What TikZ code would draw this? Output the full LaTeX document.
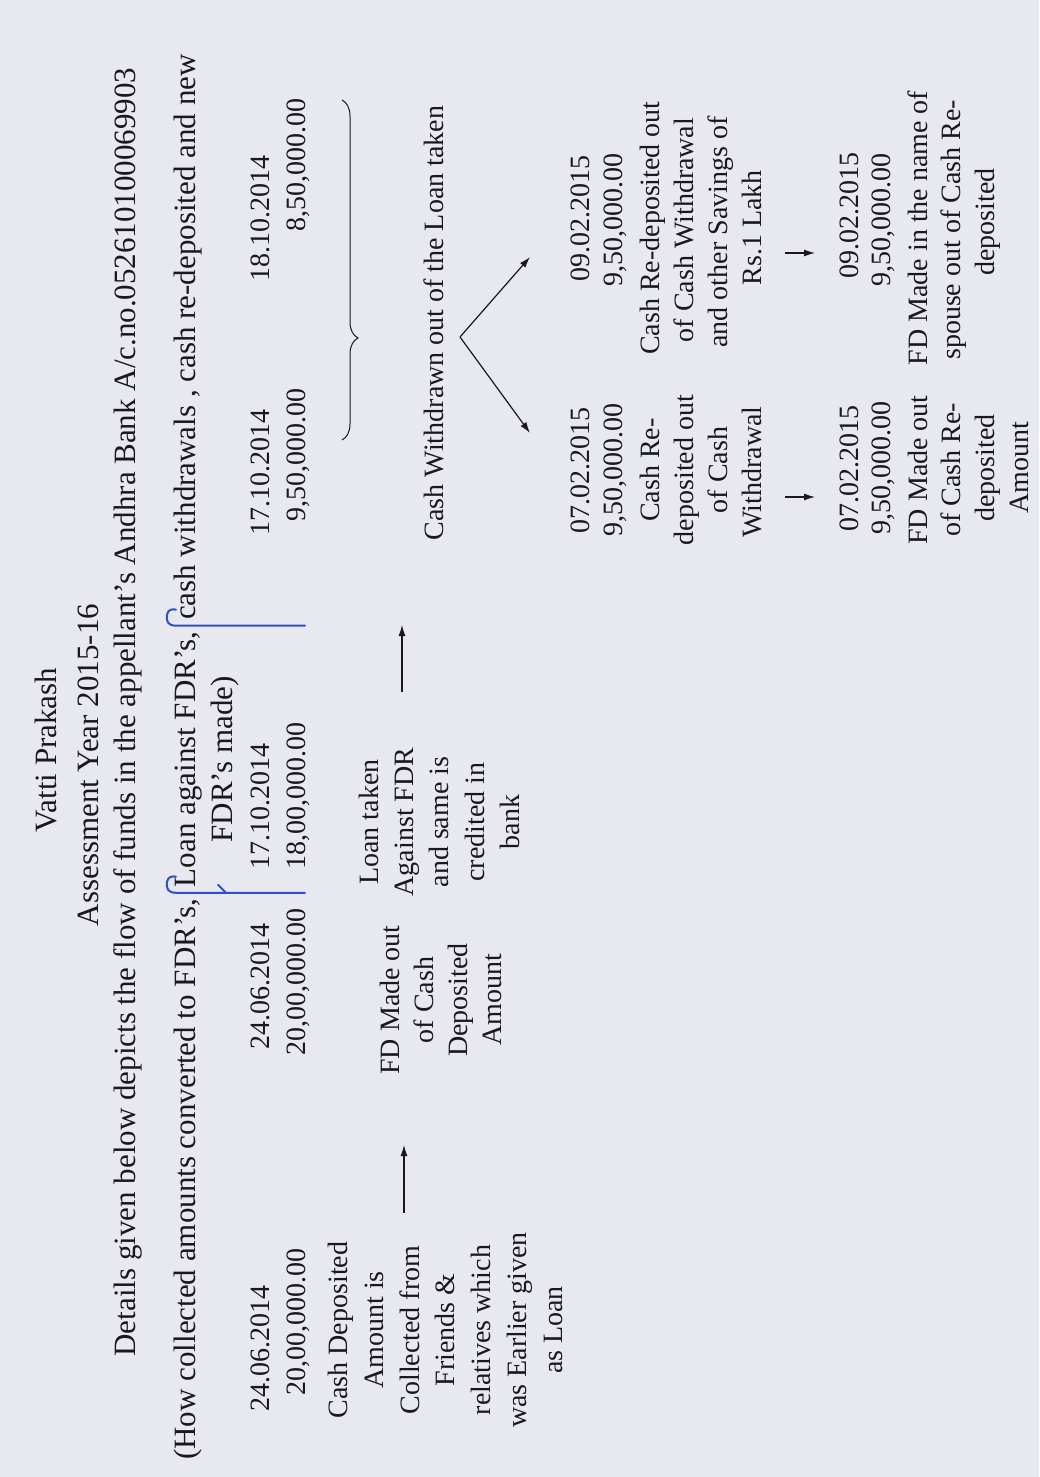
\documentclass[tikz,border=0pt]{standalone}
\usepackage{fontspec}
\setmainfont{Liberation Serif}
\usetikzlibrary{arrows.meta,decorations.pathreplacing,calc}
\definecolor{paper}{RGB}{232,232,240}
\definecolor{ink}{RGB}{24,24,30}
\definecolor{penblue}{RGB}{45,80,205}
\begin{document}
\begin{tikzpicture}[x=1pt,y=-1pt,
  hd/.style={rotate=90, inner sep=0pt, text=ink, font=\fontsize{31}{36}\selectfont, text height=22pt, text depth=2pt, anchor=center},
  tb/.style={rotate=90, inner sep=0pt, text=ink, font=\fontsize{28}{34}\selectfont, text height=20pt, text depth=2pt, anchor=center},
  arr/.style={draw=ink, line width=1.2pt, -{Latex[length=11pt,width=7pt]}},
  penmark/.style={draw=penblue, line width=2pt, line cap=round, line join=round},
  brc/.style={draw=ink, line width=1pt, decorate, decoration={brace, amplitude=16pt, aspect=0.7}}]
\fill[paper] (0,0) rectangle (1039,1477);
\useasboundingbox (0,0) rectangle (1039,1477);
% header
\node[hd] (name) at (46,750) {Vatti Prakash};
\node[hd] (ay) at (88,765) {Assessment Year 2015-16};
\node[hd] (det) at (125,712) {Details given below depicts the flow of funds in the appellant's Andhra Bank A/c.no.052610100069903};
\node[hd, anchor=west] (howA) at (185,1460) {(How collected amounts converted to FDR's,};
\node[hd, anchor=west] (howB) at ($(howA.east)+(0,-11)$) {Loan against FDR's,};
\node[hd, anchor=west] (howC) at ($(howB.east)+(0,-11)$) {cash withdrawals , cash re-deposited and new};
\node[hd] (made) at ($(howB.center)+(37,0)$) {FDR's made)};
% column 1
\node[tb] (d1) at (260,1348) {24.06.2014};
\node[tb] (a1) at (296,1322) {20,00,000.00};
\node[tb] (c1a) at (338,1330) {Cash Deposited};
\node[tb] (c1b) at (374,1330) {Amount is};
\node[tb] (c1c) at (410,1330) {Collected from};
\node[tb] (c1d) at (445,1330) {Friends \&};
\node[tb] (c1e) at (481,1330) {relatives which};
\node[tb] (c1f) at (517,1330) {was Earlier given};
\node[tb] (c1g) at (553,1330) {as Loan};
% column 2
\node[tb] (d2) at (260,986) {24.06.2014};
\node[tb] (a2) at (296,982) {20,00,000.00};
\node[tb] (c2a) at (390,1000) {FD Made out};
\node[tb] (c2b) at (424,1000) {of Cash};
\node[tb] (c2c) at (458,1000) {Deposited};
\node[tb] (c2d) at (492,1000) {Amount};
% column 3
\node[tb] (d3) at (260,806) {17.10.2014};
\node[tb] (a3) at (296,796) {18,00,000.00};
\node[tb] (c3a) at (369,822) {Loan taken};
\node[tb] (c3b) at (404,822) {Against FDR};
\node[tb] (c3c) at (439,822) {and same is};
\node[tb] (c3d) at (475,822) {credited in};
\node[tb] (c3e) at (510,822) {bank};
% columns 4 and 5
\node[tb] (d4) at (260,472) {17.10.2014};
\node[tb] (a4) at (296,455) {9,50,000.00};
\node[tb] (d5) at (260,218) {18.10.2014};
\node[tb] (a5) at (296,165) {8,50,000.00};
\node[tb] (cw) at (434,323) {Cash Withdrawn out of the Loan taken};
% lower left group
\node[tb] (d6) at (580,470) {07.02.2015};
\node[tb] (a6) at (613,470) {9,50,000.00};
\node[tb] (c6a) at (650,470) {Cash Re-};
\node[tb] (c6b) at (684,470) {deposited out};
\node[tb] (c6c) at (718,470) {of Cash};
\node[tb] (c6d) at (752,472) {Withdrawal};
% lower right group
\node[tb] (d7) at (580,218) {09.02.2015};
\node[tb] (a7) at (613,220) {9,50,000.00};
\node[tb] (c7a) at (650,228) {Cash Re-deposited out};
\node[tb] (c7b) at (684,230) {of Cash Withdrawal};
\node[tb] (c7c) at (718,232) {and other Savings of};
\node[tb] (c7d) at (752,228) {Rs.1 Lakh};
% bottom left group
\node[tb] (d8) at (849,468) {07.02.2015};
\node[tb] (a8) at (881,468) {9,50,000.00};
\node[tb] (c8a) at (918,470) {FD Made out};
\node[tb] (c8b) at (951,470) {of Cash Re-};
\node[tb] (c8c) at (985,468) {deposited};
\node[tb] (c8d) at (1019,468) {Amount};
% bottom right group
\node[tb] (d9) at (849,215) {09.02.2015};
\node[tb] (a9) at (881,220) {9,50,000.00};
\node[tb] (c9a) at (918,228) {FD Made in the name of};
\node[tb] (c9b) at (951,230) {spouse out of Cash Re-};
\node[tb] (c9c) at (985,222) {deposited};
% arrows
\coordinate (p1s) at (404,1213); \coordinate (p1e) at (404,1145);
\coordinate (p2s) at (402,692); \coordinate (p2e) at (402,625);
\coordinate (vx) at (460,337);
\coordinate (vu) at (530,257); \coordinate (vd) at (530,433);
\coordinate (s1s) at (785,497); \coordinate (s1e) at (815,497);
\coordinate (s2s) at (785,253); \coordinate (s2e) at (815,253);
\draw[arr] (p1s) -- (p1e);
\draw[arr] (p2s) -- (p2e);
\draw[arr] (vx) -- (vu);
\draw[arr] (vx) -- (vd);
\draw[arr] (s1s) -- (s1e);
\draw[arr] (s2s) -- (s2e);
% brace
\coordinate (bt) at (342,100); \coordinate (bb) at (342,440);
\draw[brc] (bt) -- (bb);
% pen marks, drawn in the gaps after the two "FDR's,"
\coordinate (xr) at (305,0); \coordinate (xl) at (176,0);
\coordinate (g2) at ($(howA.east)+(0,-5.5)$);
\coordinate (g1) at ($(howB.east)+(0,-5.5)$);
\draw[penmark] (g2 -| xr) -- (g2 -| xl) .. controls ($(g2 -| xl)+(-8,0)$) and ($(g2 -| xl)+(-10,-4)$) .. ($(g2 -| xl)+(-9,-11)$) .. controls ($(g2 -| xl)+(-8,-16)$) and ($(g2 -| xl)+(-4,-17)$) .. ($(g2 -| xl)+(0,-16)$);
\draw[penmark] (g1 -| xr) -- (g1 -| xl) .. controls ($(g1 -| xl)+(-8,0)$) and ($(g1 -| xl)+(-10,-4)$) .. ($(g1 -| xl)+(-9,-11)$) .. controls ($(g1 -| xl)+(-8,-16)$) and ($(g1 -| xl)+(-4,-17)$) .. ($(g1 -| xl)+(0,-16)$);
\draw[penmark] ($(g2)+(41,0)$) -- ($(g2)+(33,-8)$);
\end{tikzpicture}
\end{document}
